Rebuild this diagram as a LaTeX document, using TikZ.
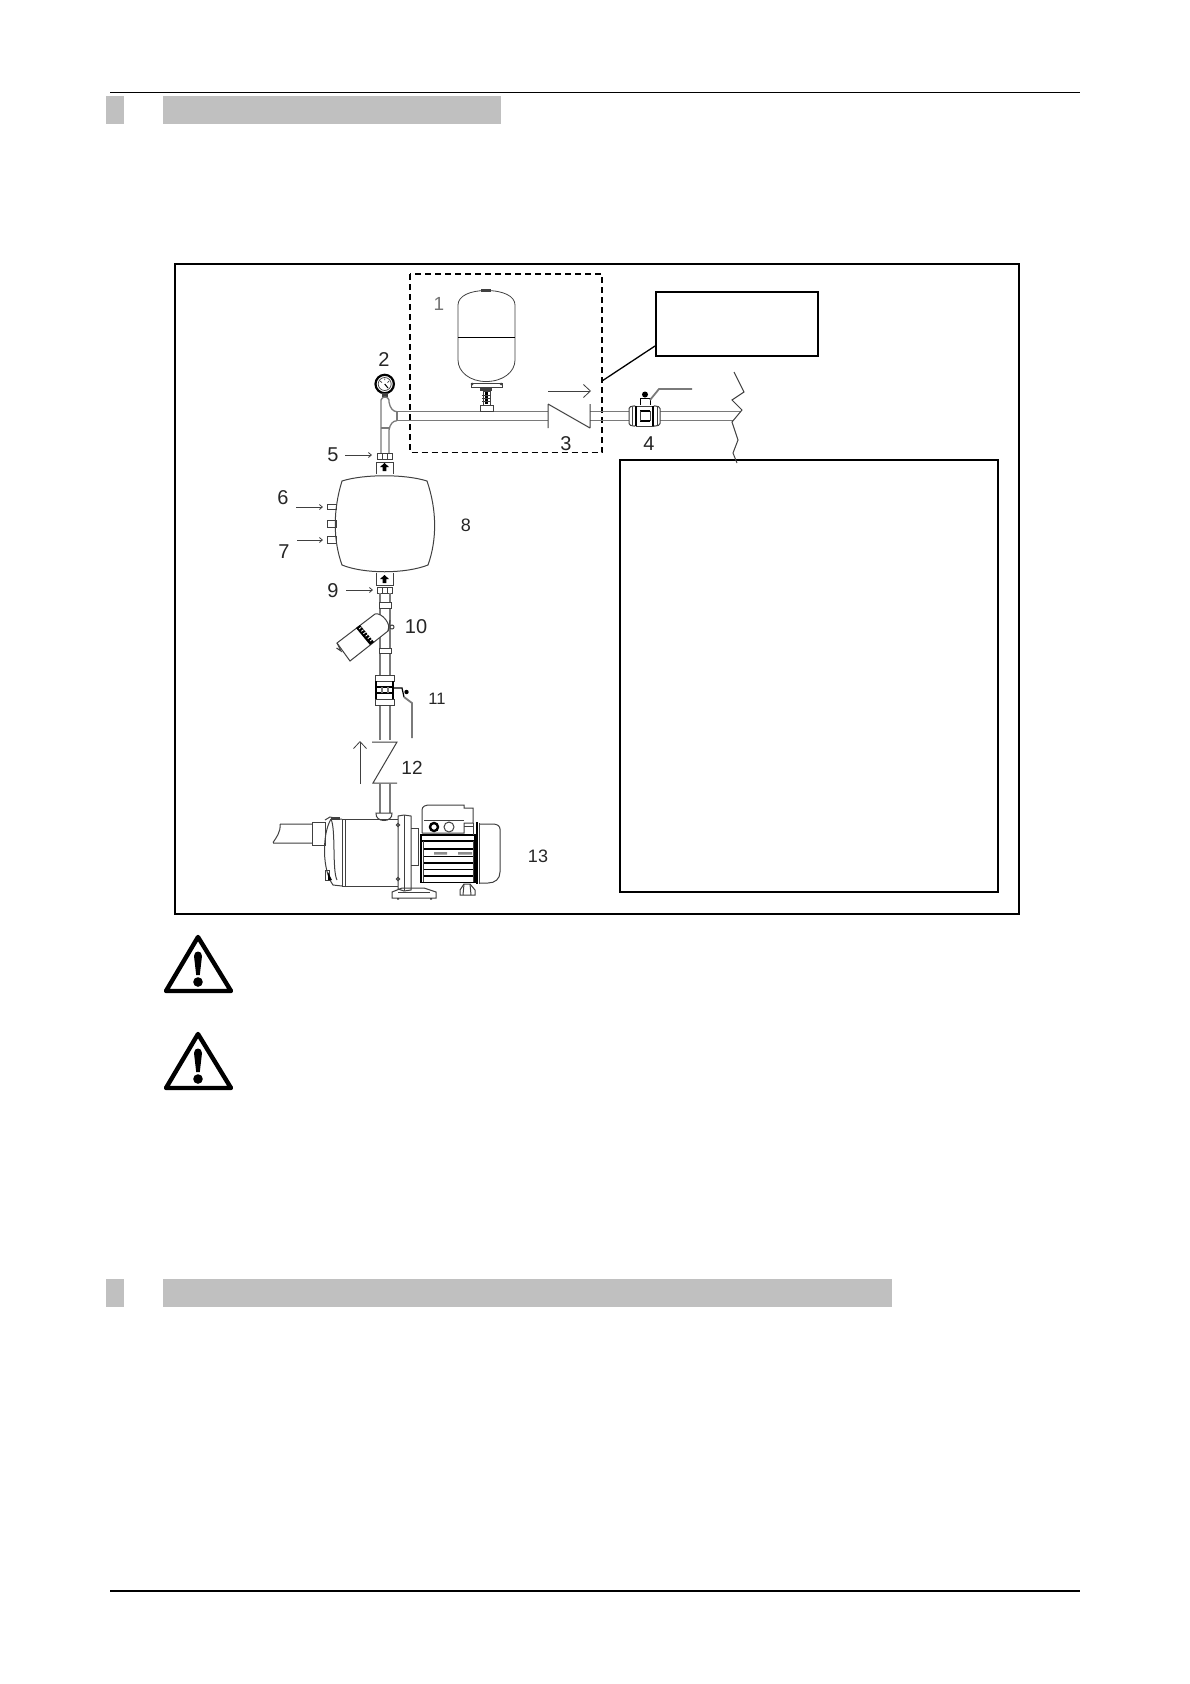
\documentclass[tikz,border=0pt]{standalone}
\usepackage{fontspec}
\setmainfont{Liberation Sans}
\usetikzlibrary{arrows.meta,calc}
\definecolor{band}{HTML}{C0C0C0}
\definecolor{pipe}{HTML}{7A7A7A}
\definecolor{part}{HTML}{404040}
\tikzset{
  rule/.style={line width=1.2pt,black},
  bandbox/.style={fill=band,draw=none},
  frameline/.style={draw=black,line width=2.2pt},
  pipeline/.style={draw=pipe,line width=1.3pt},
  partline/.style={draw=part,line width=1pt},
  lead/.style={draw=part,line width=.8pt,-{Straight Barb[length=3pt,width=5pt]}},
  flow/.style={draw=part,line width=.8pt,-{Straight Barb[length=7pt,width=13pt]}},
  num/.style={inner sep=0pt,text=black!85,font=\fontsize{#1}{#1}\selectfont},
  num/.default=20,
  warn/.style={draw=black,line width=4.4pt,line join=round},
}
\newcommand{\warnicon}[1]{%
  \draw[warn] (198,#1) -- (231,#1+54) -- (166,#1+54) -- cycle;
  \fill (194,#1+19) .. controls (194,#1+13) and (202,#1+13) .. (202,#1+19)
        -- (199.8,#1+38) -- (196.2,#1+38) -- cycle;
  \fill (198,#1+45) circle (4.8);
}
\newcommand{\neckarrow}[1]{%
  \fill[black] (384.5,#1-4) -- (389,#1) -- (386.3,#1) -- (386.3,#1+4) -- (382.7,#1+4) -- (382.7,#1) -- (380,#1) -- cycle;
}
\begin{document}
\begin{tikzpicture}[x=1pt,y=-1pt]
\useasboundingbox (0,0) rectangle (1190,1684);
\fill[white] (0,0) rectangle (1190,1684);
% page rules and bands
\draw[rule] (110,92.4) -- (1080,92.4);
\draw[line width=2pt] (110,1590.8) -- (1080,1590.8);
\fill[bandbox] (106,96) rectangle (124,124);
\fill[bandbox] (163,96) rectangle (501,124);
\fill[bandbox] (106,1279) rectangle (124,1306.7);
\fill[bandbox] (163,1279) rectangle (892,1306.7);
% frames
\draw[frameline] (175,264) rectangle (1019,913.8);
\draw[frameline] (620,460) rectangle (998,892);
\node[draw=black,line width=1.8pt,minimum width=162pt,minimum height=64pt,inner sep=0pt,anchor=north west] (callout) at (655,291) {};
\coordinate (calloutfoot) at (655,346);
\coordinate (dashcorner) at (602,381);
\draw[black,line width=1.3pt] (calloutfoot) -- (dashcorner);
\draw[black,line width=1.3pt,dash pattern=on 6pt off 4pt] (410,274) rectangle (602,452.5);
% horizontal pipe
\draw[pipeline] (397,411.7) -- (548,411.7) (397,420.7) -- (548,420.7);
\draw[pipeline] (590,411.7) -- (629,411.7) (590,420.7) -- (629,420.7);
\draw[pipeline] (660,411.7) -- (741,411.7) (660,420.7) -- (733,420.7);
% check valve 3
\draw[partline] (548,404) -- (548,428) (548,404) -- (590,428) (590,404) -- (590,428);
\draw[flow] (548,391) -- (591,391);
% tank 1
\draw[partline,line width=.8pt] (458,330) -- (458,305) .. controls (458,296) and (470,290.5) .. (486,290.5) .. controls (503,290.5) and (515,296) .. (515,305) -- (515,360) .. controls (515,372) and (503,381.5) .. (486,381.5) .. controls (470,381.5) and (458,372) .. (458,360) -- cycle;
\fill[part] (481,289) rectangle (491,291.5);
\draw[black,line width=1.5pt] (458,337.3) -- (515,337.3);
\draw[partline] (471,383) rectangle (502,387);
\fill[part] (472,384) circle (1.5) (501,384) circle (1.5);
\fill[part] (480,387) rectangle (492,391);
\draw[partline] (483,391) rectangle (490,405);
\fill[black] (485,392) rectangle (488,404);
\draw[part,line width=.7pt] (482,395) -- (491,395) (482,398) -- (491,398) (482,401) -- (491,401);
\draw[partline] (480,405) rectangle (493,411.7);
% gauge 2 and tee
\draw[black,line width=2.2pt] (384.7,384) circle (9.2);
\draw[part,line width=.7pt] (384.7,384) circle (6.5);
\draw[black,line width=1pt] (384.7,384) -- (388,388);
\draw[part,line width=.7pt] (380,381) -- (382,382.5) (384.7,378.5) -- (384.7,380) (389,381) -- (387.5,382.5);
\fill[part] (382,393) rectangle (387.5,398);
\draw[pipeline] (381,453) -- (381,400) .. controls (382,396) and (388,396) .. (389,400) -- (389,402) .. controls (390,408) and (393,411.7) .. (397,411.7);
\draw[pipeline] (389,453) -- (389,430) .. controls (390,424) and (393,420.7) .. (397,420.7);
\draw[pipeline] (381,428) -- (389,428);
\draw[pipeline] (397,411.7) -- (397,420.7);
% union 5, neck and body 8
\draw[partline] (377,453) rectangle (392,459);
\draw[partline] (382,453) -- (382,459) (387,453) -- (387,459);
\draw[partline] (376,474) -- (376,462) -- (393,462) -- (393,474);
\neckarrow{467}
\draw[partline,fill=white] (342,481) .. controls (364,474) and (405,474) .. (427,481)
  .. controls (437,510) and (437,540) .. (428,565)
  .. controls (405,574) and (364,574) .. (342,565)
  .. controls (333,540) and (333,510) .. (342,481) -- cycle;
\draw[partline] (327,504) rectangle (336,509.5);
\draw[partline] (327,520) rectangle (336,527);
\draw[partline] (327,536) rectangle (336,543);
\draw[partline] (376,572.5) -- (376,585) -- (393,585) -- (393,572.5);
\neckarrow{579}
\draw[partline] (377,587) rectangle (392,593);
\draw[partline] (382,587) -- (382,593) (387,587) -- (387,593);
% leader arrows
\coordinate (l5a) at (345,455); \coordinate (l5b) at (372,455);
\coordinate (l6a) at (296,507); \coordinate (l6b) at (323,507);
\coordinate (l7a) at (297,540); \coordinate (l7b) at (323,540);
\coordinate (l9a) at (346,590); \coordinate (l9b) at (373,590);
\draw[lead] (l5a) -- (l5b);
\draw[lead] (l6a) -- (l6b);
\draw[lead] (l7a) -- (l7b);
\draw[lead] (l9a) -- (l9b);
% lower pipe
\draw[pipeline] (380,593) -- (380,740) (390,593) -- (390,740);
\draw[partline,fill=white] (379,602) rectangle (391,608);
\draw[partline,fill=white] (379,648) rectangle (391,653);
% strainer 10
\draw[partline,fill=white] (375,614) -- (337,643) -- (350,661) -- (388,631) .. controls (392,625) and (382,612) .. (375,614) -- cycle;
\draw[partline] (337,643) -- (341,651) -- (336.5,648) (388,631) -- (390,620);
\fill[black] (356,628) -- (360,625) -- (374,642) -- (370,645) -- cycle;
\foreach \k in {0,.2,.4,.6,.8,1}{\draw[white,line width=.8pt] ($(359,629)!\k!(370,641)$) -- ++(2.2,-1.7);}
\draw[partline,fill=white] (392,627) circle (2);
% valve 11
\draw[partline,fill=white] (375,675) rectangle (394,681);
\draw[partline,fill=white] (375,699) rectangle (394,705);
\draw[partline,fill=white] (376,681) rectangle (393,699);
\draw[black,line width=1.4pt] (376,681) -- (376,699) (393,681) -- (393,699) (376,687) -- (393,687) (376,693) -- (393,693);
\draw[pipeline] (382,687) -- (382,693) (388,687) -- (388,693);
\draw[black,line width=1.2pt] (394,688) -- (402,688) -- (404,697);
\fill[black] (406.5,692) circle (2.2);
\draw[pipe,line width=1.8pt] (404,697) -- (412,703) -- (412,738);
% check valve 12
\draw[partline] (372,742) -- (397,742) -- (373,783) -- (397,783);
\draw[flow] (360,784) -- (360,741);
\draw[pipeline] (380,783) -- (380,813) (390,783) -- (390,813);
% pump 13
\draw[partline] (376,813) .. controls (375,823) and (393,823) .. (392,813) -- cycle;
\draw[partline] (342,819) -- (398,819) (342,886) -- (398,886) (342,819) -- (342,886) (345,819) -- (345,886);
\draw[partline] (398,816) -- (404,815) -- (411,816) -- (411,890) -- (404,891) -- (398,889) -- cycle;
\draw[partline] (404,815) -- (404,891);
\draw[partline] (411,828) -- (418,828) -- (418,865) -- (411,865);
\draw[partline] (398,825) circle (1.6) (398,879) circle (1.6);
\draw[partline] (392,892) -- (402,888) -- (424,888) -- (436,892) -- (436,898) -- (392,898) -- cycle;
\draw[partline] (398,892) -- (430,892);
\fill[part] (397,898) rectangle (399,899.5) (430,898) rectangle (432,899.5);
% inlet and volute
\draw[partline] (273,842.5) .. controls (276,838) and (281,832) .. (280,824) (280,824) -- (312,824) (273,843) -- (312,843);
\draw[partline] (312,822) rectangle (325,845);
\draw[partline] (325,820) -- (330,817) -- (340,819) -- (342,819) (331,819) .. controls (322,834) and (322,870) .. (333,885) -- (342,886);
\draw[partline] (331,819) .. controls (336,830) and (332,870) .. (337,880);
\fill[part] (331,817) rectangle (340,820);
\draw[partline] (325,870) rectangle (329,880);
\fill[black] (328,872) -- (332,880) -- (328,880) -- cycle;
% motor
\draw[black,line width=1.4pt] (421,835) rectangle (475,882.5);
\draw[black,line width=1.4pt] (421,841) -- (475,841);
\foreach \yy/\ww in {849/1.4,856/.9,863/1.4,869/.9,876/1.4}{\draw[black,line width=\ww pt] (423,\yy) -- (473,\yy);}
\draw[partline] (423,841) -- (423,882) (473,841) -- (473,882);
\fill[part!60] (434,852) rectangle (447,854.5) (458,852) rectangle (472,854.5);
\draw[partline] (422,833) -- (422,810) .. controls (422,806) and (426,805) .. (430,805) -- (464,805) -- (464,808) -- (473,808) -- (473,823) -- (464,823) -- (464,833) -- (422,833);
\draw[partline] (424,820) -- (464,820);
\draw[partline] (473,823) -- (473,835) (464,826) -- (473,826);
\draw[black,line width=2.4pt] (434,827) circle (4);
\draw[partline] (449,827) circle (5);
\draw[black,line width=2pt] (476.5,822) -- (476.5,884);
\draw[partline] (479,823) -- (479,884);
\draw[partline] (479,824) -- (493,824) .. controls (497,824) and (500,826) .. (500,829) -- (500,872) .. controls (500,879) and (495,883) .. (488,883) -- (479,883);
\draw[partline] (460,890) -- (464,884) -- (470,884) -- (475,890) -- (475,895) -- (460,895) -- cycle;
\draw[partline] (464,884) -- (463,895) (470,884) -- (471,895);
% break line
\draw[partline] (734,372) -- (744,392) -- (732,400) -- (742,410) -- (732,422) -- (738,440) -- (733,453) -- (737,463);
% valve 4
\draw[partline,fill=white,rounded corners=1.5pt] (629,407) -- (636,405.5) -- (636,426.5) -- (629,425) -- cycle;
\draw[partline,fill=white,rounded corners=1.5pt] (653,405.5) -- (660,407) -- (660,425) -- (653,426.5) -- cycle;
\draw[partline,fill=white] (636,406) rectangle (653,426);
\draw[black,line width=1.6pt] (636,406) -- (636,426) (653,406) -- (653,426) (640,411) -- (650,411) (640,421) -- (650,421);
\draw[partline] (640,411) -- (640,421) (650,411) -- (650,421) (632,407) -- (632,425) (657,407) -- (657,425);
\draw[black,line width=1pt] (640,405) -- (640,398) -- (650,398) -- (650,405);
\fill[black] (645,394.5) circle (3);
\draw[pipe,line width=1.8pt] (650,400) -- (659,389) -- (692,389);
% warning icons
\warnicon{937}
\warnicon{1034}
% labels
\node[num=19,text=black!55] (n1) at (439,304) {1};
\node[num] (n2) at (384,360) {2};
\node[num] (n3) at (566,444) {3};
\node[num] (n4) at (649,444) {4};
\node[num] (n5) at (333,455) {5};
\node[num] (n6) at (283,498) {6};
\node[num] (n7) at (284,552) {7};
\node[num=18] (n8) at (466,525) {8};
\node[num] (n9) at (333,591) {9};
\node[num] (n10) at (416,627) {10};
\node[num=16.5] (n11) at (437,699) {11};
\node[num=19] (n12) at (412,768) {12};
\node[num=18] (n13) at (538,856) {13};
\end{tikzpicture}
\end{document}
